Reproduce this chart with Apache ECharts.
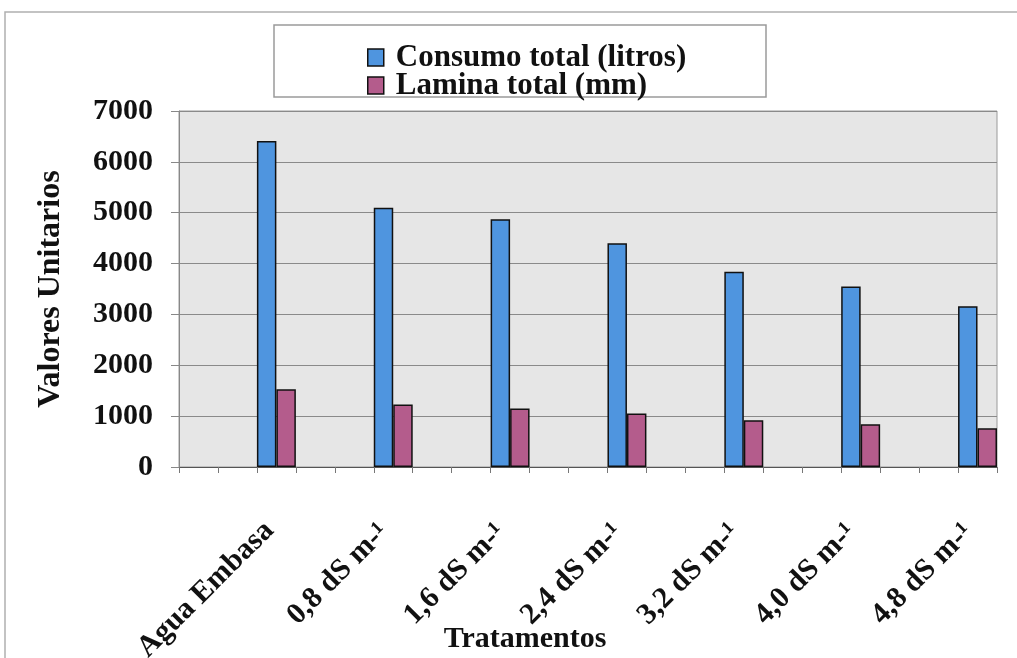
<!DOCTYPE html>
<html>
<head>
<meta charset="utf-8">
<script src="https://cdn.jsdelivr.net/npm/echarts@6/dist/echarts.min.js"></script>
<style>
html,body{margin:0;padding:0;background:#fff;}
#chart{width:1017px;height:658px;}
</style>
</head>
<body>
<div id="chart"></div>
<script>
// Treatments (categories)
var treatments = ['Agua Embasa', '0,8 dS m-¹', '1,6 dS m-¹', '2,4 dS m-¹', '3,2 dS m-¹', '4,0 dS m-¹', '4,8 dS m-¹'];
// Series values
var consumoTotal = [6410, 5100, 4870, 4400, 3840, 3550, 3160];
var laminaTotal = [1530, 1230, 1150, 1050, 920, 840, 760];
// Y tick values
var yTicks = [0, 1000, 2000, 3000, 4000, 5000, 6000, 7000];
var seriesNames = ['Consumo total (litros)', 'Lamina total (mm)'];

// Excel-style layout: two empty slots before each treatment slot
var slotsPerGroup = 3;
var cats = [], s1 = [], s2 = [];
treatments.forEach(function (t, i) {
  for (var k = 0; k < slotsPerGroup; k++) {
    var isData = (k === slotsPerGroup - 1);
    if (isData) {
      var pad = (i === 0) ? [0, 10, 0, 0] : [0, 13, 16, 0];
      cats.push({ value: t, textStyle: { padding: pad } });
    } else {
      cats.push('');
    }
    s1.push(isData ? consumoTotal[i] : null);
    s2.push(isData ? laminaTotal[i] : null);
  }
});

var FONT = 'Liberation Serif';
var chart = echarts.init(document.getElementById('chart'));
chart.setOption({
  animation: false,
  backgroundColor: '#ffffff',
  grid: {
    left: 179, right: 20, top: 111, bottom: 191,
    containLabel: false, outerBoundsMode: 'none',
    show: true, backgroundColor: '#e6e6e6', borderColor: '#9a9a9a', borderWidth: 1
  },
  legend: {
    orient: 'vertical',
    left: 367, top: 42, padding: 0,
    itemWidth: 16, itemHeight: 17, itemGap: -3,
    icon: 'rect',
    itemStyle: { borderColor: '#111', borderWidth: 1.5 },
    textStyle: { fontFamily: FONT, fontWeight: 'bold', fontSize: 31, color: '#111', lineHeight: 28, padding: [0, 0, 0, 7] },
    data: seriesNames
  },
  xAxis: {
    type: 'category',
    data: cats,
    boundaryGap: true,
    axisLine: { show: true, lineStyle: { color: '#555', width: 1 } },
    axisTick: { show: true, length: 6, lineStyle: { color: '#777' }, interval: 0 },
    axisLabel: {
      interval: 0, rotate: 45, margin: 52,
      fontFamily: FONT, fontWeight: 'bold', fontSize: 30, color: '#111'
    },
    splitLine: { show: false }
  },
  yAxis: {
    type: 'value',
    min: 0, max: 7000, interval: 1000,
    name: 'Valores Unitarios',
    nameLocation: 'middle',
    nameGap: 112,
    nameTextStyle: { fontFamily: FONT, fontWeight: 'bold', fontSize: 32, color: '#111' },
    axisLine: { show: true, lineStyle: { color: '#888' } },
    axisTick: { show: true, length: 8, lineStyle: { color: '#888' } },
    axisLabel: {
      margin: 26, fontFamily: FONT, fontWeight: 'bold', fontSize: 30, color: '#111',
      formatter: function (v) { return yTicks.indexOf(v) >= 0 ? String(v) : ''; }
    },
    splitLine: { show: true, lineStyle: { color: '#8a8a8a', width: 1 } }
  },
  series: [
    {
      name: seriesNames[0], type: 'bar', data: s1,
      barGap: '0%', barCategoryGap: '0%',
      itemStyle: { color: '#4f95df', borderColor: '#111', borderWidth: 1.5 }
    },
    {
      name: seriesNames[1], type: 'bar', data: s2,
      barGap: '0%', barCategoryGap: '0%',
      itemStyle: { color: '#b45c8c', borderColor: '#111', borderWidth: 1.5 }
    }
  ],
  graphic: [
    { type: 'rect', silent: true, z: -1,
      shape: { x: 5, y: 12, width: 1040, height: 700 },
      style: { fill: 'none', stroke: '#b0b0b0', lineWidth: 1.5 } },
    { type: 'rect', silent: true,
      shape: { x: 274, y: 25, width: 492, height: 72 },
      style: { fill: 'none', stroke: '#9a9a9a', lineWidth: 1.5 } },
    { type: 'text', silent: true,
      style: { text: 'Tratamentos', x: 525, y: 639, align: 'center', verticalAlign: 'middle',
        font: 'bold 30px "Liberation Serif"', fill: '#111' } }
  ]
});
</script>
</body>
</html>
